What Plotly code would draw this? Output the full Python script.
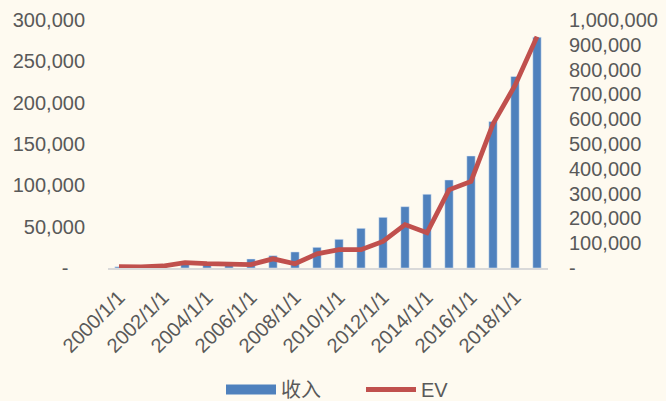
import plotly.graph_objects as go

years = [f"{y}/1/1" for y in range(2000, 2020)]
revenue = [1500, 2000, 3000, 4500, 5500, 7000, 10900, 14900, 19400, 25000,
           34700, 48000, 61300, 74200, 89200, 106500, 135500, 177200, 231700, 279200]
ev = [5000, 4000, 8000, 22000, 18000, 18000, 14000, 37000, 17000, 57000,
      74000, 74000, 107000, 175000, 142000, 315000, 349000, 581000, 736000, 933000]

left_ticks = [0, 50000, 100000, 150000, 200000, 250000, 300000]
left_text = ["-\u00a0\u00a0\u00a0"] + [f"{v:,}" for v in left_ticks[1:]]
right_ticks = list(range(0, 1000001, 100000))
right_text = ["-"] + [f"{v:,}" for v in right_ticks[1:]]

label_idx = list(range(0, 20, 2))
boundary_ticks = [i - 0.5 for i in range(0, 21, 2)]

font_color = "#595959"
bar_color = "#4F81BD"
line_color = "#C0504D"
fs = 20

fig = go.Figure()
fig.add_trace(go.Bar(x=years, y=revenue, name="收入", marker_color=bar_color,
                     width=0.38, yaxis="y", xaxis="x", showlegend=False))
# legend entry for the bars (wide block like the reference)
fig.add_trace(go.Scatter(x=[None], y=[None], name="收入", mode="lines",
                         line=dict(color=bar_color, width=11), yaxis="y", xaxis="x"))
fig.add_trace(go.Scatter(x=years, y=ev, name="EV", mode="lines",
                         line=dict(color=line_color, width=4.8), yaxis="y2", xaxis="x"))

fig.update_layout(
    width=666, height=401,
    margin=dict(l=108, r=118, t=20, b=133, autoexpand=False),
    paper_bgcolor="#FEFAF0", plot_bgcolor="#FEFAF0",
    font=dict(family="Liberation Sans, Arial, sans-serif", size=fs, color=font_color),
    showlegend=True,
    legend=dict(orientation="h", x=0.575, xanchor="center", y=-0.49, yanchor="middle",
                font=dict(size=fs, color=font_color,
                          family="Liberation Sans, Noto Sans CJK SC, sans-serif"),
                bgcolor="rgba(0,0,0,0)", itemwidth=50, entrywidth=75),
    xaxis=dict(type="category", range=[-0.5, 19.5], automargin=False,
               tickmode="array", tickvals=[years[i] for i in label_idx],
               ticktext=[years[i] for i in label_idx], ticklabelstandoff=8,
               tickangle=-45, ticks="", showline=True, linecolor="#D9D9D9", linewidth=1.5,
               showgrid=False, zeroline=False, tickfont=dict(size=fs, color=font_color)),
    xaxis2=dict(overlaying="x", anchor="y", side="bottom", range=[-0.5, 19.5], automargin=False,
                tickmode="array", tickvals=boundary_ticks, showticklabels=False,
                ticks="outside", ticklen=5, tickcolor="#D9D9D9", tickwidth=1.5,
                showgrid=False, zeroline=False, showline=False),
    yaxis=dict(range=[0, 300000], tickmode="array", tickvals=left_ticks, ticktext=left_text,
               showgrid=False, zeroline=False, showline=False, ticks="", automargin=False,
               ticklabelstandoff=22, tickfont=dict(size=fs, color=font_color)),
    yaxis2=dict(range=[0, 1000000], overlaying="y", side="right", anchor="x",
                tickmode="array", tickvals=right_ticks, ticktext=right_text, automargin=False,
                showgrid=False, zeroline=False, showline=False, ticks="",
                ticklabelstandoff=20, tickfont=dict(size=fs, color=font_color)),
)

fig.write_html("out.html")
